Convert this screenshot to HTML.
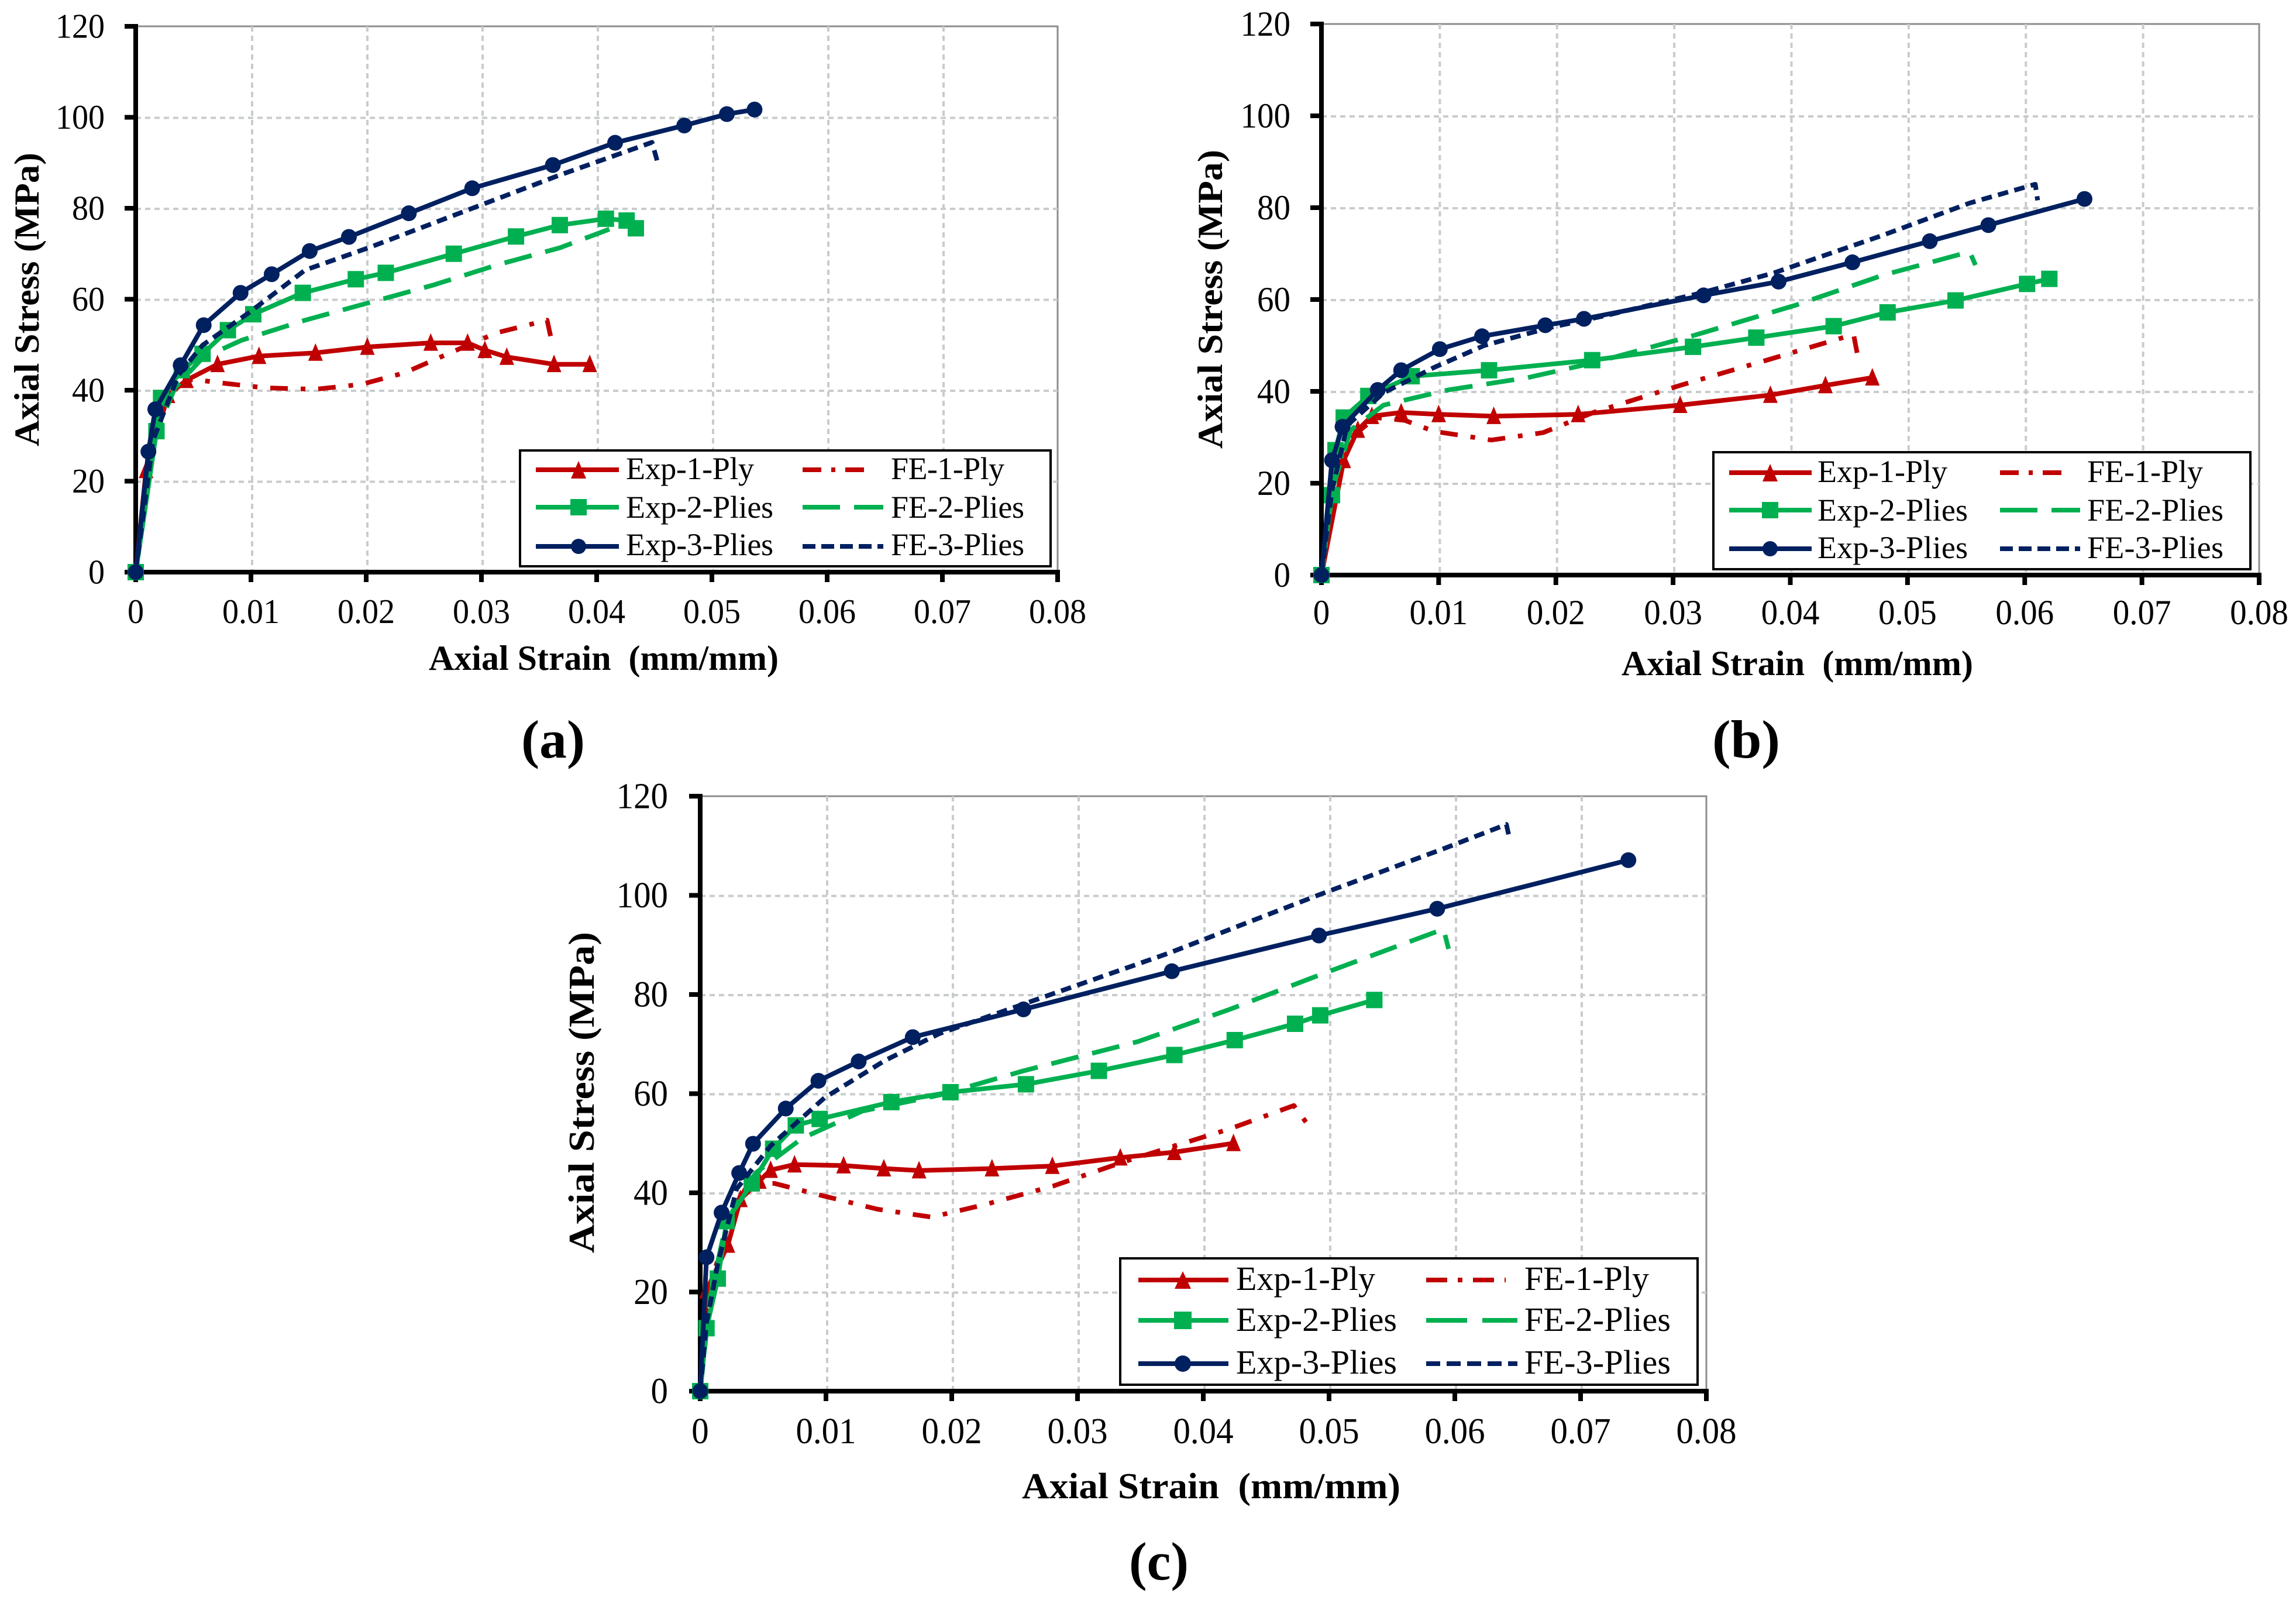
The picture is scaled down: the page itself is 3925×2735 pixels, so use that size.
<!DOCTYPE html>
<html lang="en">
<head>
<meta charset="utf-8">
<title>Axial stress versus axial strain charts</title>
<style>
html,body{margin:0;padding:0;background:#fff;}
svg{display:block;font-family:"Liberation Serif",serif;}
.axis-title{font-weight:bold;fill:#000;}
.legend-text{fill:#000;}
.caption{font-weight:bold;fill:#000;font-size:92px;}
</style>
</head>
<body>
<svg id="figure" xmlns="http://www.w3.org/2000/svg" width="3925" height="2735" viewBox="0 0 3925 2735">
  <rect x="0" y="0" width="3925" height="2735" fill="#fff"/>
  <g id="plot-a"></g>
  <g id="plot-b"></g>
  <g id="plot-c"></g>

  <text class="axis-title" x="733" y="1145" font-size="60" textLength="598" lengthAdjust="spacingAndGlyphs">Axial Strain&#160; (mm/mm)</text>
  <text class="axis-title" transform="translate(66 763) rotate(-90)" font-size="60" textLength="502" lengthAdjust="spacingAndGlyphs">Axial Stress (MPa)</text>
  <text class="caption" x="891" y="1295" textLength="109" lengthAdjust="spacingAndGlyphs">(a)</text>

  <text class="axis-title" x="2772" y="1154" font-size="60" textLength="601" lengthAdjust="spacingAndGlyphs">Axial Strain&#160; (mm/mm)</text>
  <text class="axis-title" transform="translate(2089 767) rotate(-90)" font-size="60" textLength="511" lengthAdjust="spacingAndGlyphs">Axial Stress (MPa)</text>
  <text class="caption" x="2927" y="1295" textLength="116" lengthAdjust="spacingAndGlyphs">(b)</text>

  <text class="axis-title" x="1747" y="2561" font-size="62" textLength="647" lengthAdjust="spacingAndGlyphs">Axial Strain&#160; (mm/mm)</text>
  <text class="axis-title" transform="translate(1015 2142) rotate(-90)" font-size="62" textLength="549" lengthAdjust="spacingAndGlyphs">Axial Stress (MPa)</text>
  <text class="caption" x="1930" y="2700" textLength="102" lengthAdjust="spacingAndGlyphs">(c)</text>

  <g>
    <rect x="889" y="770" width="907" height="198" fill="#fff" stroke="#000" stroke-width="4"/>
    <line x1="916" y1="803" x2="1058" y2="803" stroke="#C00000" stroke-width="8"/>
    <polygon points="989,788 1002,818 976,818" fill="#C00000"/>
    <text class="legend-text" x="1070" y="819" font-size="54" textLength="219" lengthAdjust="spacing">Exp-1-Ply</text>
    <line x1="916" y1="867" x2="1058" y2="867" stroke="#00B050" stroke-width="8"/>
    <rect x="975" y="853" width="28" height="28" fill="#00B050"/>
    <text class="legend-text" x="1070" y="885" font-size="54" textLength="252" lengthAdjust="spacing">Exp-2-Plies</text>
    <line x1="916" y1="934" x2="1058" y2="934" stroke="#002060" stroke-width="8"/>
    <circle cx="989" cy="934" r="13" fill="#002060"/>
    <text class="legend-text" x="1070" y="949" font-size="54" textLength="252" lengthAdjust="spacing">Exp-3-Plies</text>
    <line x1="1372" y1="803" x2="1493" y2="803" stroke="#C00000" stroke-width="8" stroke-dasharray="32 17 7 17"/>
    <text class="legend-text" x="1523" y="819" font-size="54" textLength="194" lengthAdjust="spacing">FE-1-Ply</text>
    <line x1="1372" y1="867" x2="1510" y2="867" stroke="#00B050" stroke-width="8" stroke-dasharray="64 24"/>
    <text class="legend-text" x="1523" y="885" font-size="54" textLength="228" lengthAdjust="spacing">FE-2-Plies</text>
    <line x1="1372" y1="934" x2="1510" y2="934" stroke="#002060" stroke-width="8" stroke-dasharray="22 10"/>
    <text class="legend-text" x="1523" y="949" font-size="54" textLength="228" lengthAdjust="spacing">FE-3-Plies</text>
  </g>

  <g>
    <rect x="2929" y="773" width="918" height="200" fill="#fff" stroke="#000" stroke-width="4"/>
    <line x1="2956" y1="808" x2="3097" y2="808" stroke="#C00000" stroke-width="8"/>
    <polygon points="3026,793 3039,823 3013,823" fill="#C00000"/>
    <text class="legend-text" x="3107" y="824" font-size="54" textLength="222" lengthAdjust="spacing">Exp-1-Ply</text>
    <line x1="2956" y1="872" x2="3097" y2="872" stroke="#00B050" stroke-width="8"/>
    <rect x="3012" y="858" width="28" height="28" fill="#00B050"/>
    <text class="legend-text" x="3107" y="890" font-size="54" textLength="257" lengthAdjust="spacing">Exp-2-Plies</text>
    <line x1="2956" y1="938" x2="3097" y2="938" stroke="#002060" stroke-width="8"/>
    <circle cx="3026" cy="938" r="13" fill="#002060"/>
    <text class="legend-text" x="3107" y="954" font-size="54" textLength="257" lengthAdjust="spacing">Exp-3-Plies</text>
    <line x1="3419" y1="808" x2="3540" y2="808" stroke="#C00000" stroke-width="8" stroke-dasharray="32 17 7 17"/>
    <text class="legend-text" x="3568" y="824" font-size="54" textLength="198" lengthAdjust="spacing">FE-1-Ply</text>
    <line x1="3419" y1="872" x2="3556" y2="872" stroke="#00B050" stroke-width="8" stroke-dasharray="64 24"/>
    <text class="legend-text" x="3568" y="890" font-size="54" textLength="233" lengthAdjust="spacing">FE-2-Plies</text>
    <line x1="3419" y1="938" x2="3556" y2="938" stroke="#002060" stroke-width="8" stroke-dasharray="22 10"/>
    <text class="legend-text" x="3568" y="954" font-size="54" textLength="233" lengthAdjust="spacing">FE-3-Plies</text>
  </g>

  <g>
    <rect x="1915" y="2151" width="987" height="216" fill="#fff" stroke="#000" stroke-width="4"/>
    <line x1="1946" y1="2188" x2="2100" y2="2188" stroke="#C00000" stroke-width="8"/>
    <polygon points="2022,2173 2036,2203 2008,2203" fill="#C00000"/>
    <text class="legend-text" x="2113" y="2205" font-size="58" textLength="238" lengthAdjust="spacing">Exp-1-Ply</text>
    <line x1="1946" y1="2257" x2="2100" y2="2257" stroke="#00B050" stroke-width="8"/>
    <rect x="2007" y="2242" width="30" height="30" fill="#00B050"/>
    <text class="legend-text" x="2113" y="2275" font-size="58" textLength="275" lengthAdjust="spacing">Exp-2-Plies</text>
    <line x1="1946" y1="2331" x2="2100" y2="2331" stroke="#002060" stroke-width="8"/>
    <circle cx="2022" cy="2331" r="14" fill="#002060"/>
    <text class="legend-text" x="2113" y="2348" font-size="58" textLength="275" lengthAdjust="spacing">Exp-3-Plies</text>
    <line x1="2438" y1="2188" x2="2574" y2="2188" stroke="#C00000" stroke-width="8" stroke-dasharray="36 18 8 18"/>
    <text class="legend-text" x="2606" y="2205" font-size="58" textLength="213" lengthAdjust="spacing">FE-1-Ply</text>
    <line x1="2438" y1="2257" x2="2594" y2="2257" stroke="#00B050" stroke-width="8" stroke-dasharray="70 26"/>
    <text class="legend-text" x="2606" y="2275" font-size="58" textLength="250" lengthAdjust="spacing">FE-2-Plies</text>
    <line x1="2438" y1="2331" x2="2594" y2="2331" stroke="#002060" stroke-width="8" stroke-dasharray="24 11"/>
    <text class="legend-text" x="2606" y="2348" font-size="58" textLength="250" lengthAdjust="spacing">FE-3-Plies</text>
  </g>
</svg>

<script>
// Axis tick labels
const strainTicks = [0, 0.01, 0.02, 0.03, 0.04, 0.05, 0.06, 0.07, 0.08];
const stressTicks = [0, 20, 40, 60, 80, 100, 120];

// Chart (a)
const aExp1Strain = [0, 0.0009, 0.0028, 0.0044, 0.0071, 0.0107, 0.0156, 0.0201, 0.0256, 0.0288, 0.0303, 0.0322, 0.0363, 0.0394];
const aExp1Stress = [0, 22.4, 38.9, 42.2, 45.7, 47.5, 48.2, 49.5, 50.4, 50.4, 48.8, 47.3, 45.7, 45.7];
const aExp2Strain = [0, 0.0018, 0.0022, 0.004, 0.0058, 0.008, 0.0102, 0.0145, 0.0191, 0.0217, 0.0276, 0.033, 0.0368, 0.0408, 0.0426, 0.0434];
const aExp2Stress = [0, 31, 38.3, 44.4, 48, 53.2, 56.7, 61.4, 64.4, 65.8, 70, 73.8, 76.3, 77.7, 77.3, 75.6];
const aExp3Strain = [0, 0.0011, 0.0017, 0.0039, 0.0059, 0.0091, 0.0118, 0.0151, 0.0185, 0.0237, 0.0292, 0.0362, 0.0416, 0.0476, 0.0513, 0.0537];
const aExp3Stress = [0, 26.5, 35.8, 45.5, 54.3, 61.4, 65.5, 70.6, 73.7, 78.9, 84.4, 89.5, 94.4, 98.2, 100.7, 101.7];
const aFe1Strain = [0, 0.0009, 0.0022, 0.0034, 0.0049, 0.0074, 0.0113, 0.0156, 0.0196, 0.0233, 0.027, 0.0313, 0.0357, 0.036];
const aFe1Stress = [0, 21.2, 34.4, 40.5, 42.4, 41.6, 40.5, 40.2, 41.3, 43.8, 47.9, 52.6, 55.4, 51.9];
const aFe2Strain = [0, 0.0015, 0.0034, 0.0058, 0.0092, 0.0147, 0.0202, 0.0258, 0.0313, 0.0368, 0.0411];
const aFe2Stress = [0, 29, 40.5, 47.1, 51, 55.4, 59.2, 63.1, 67.5, 71.3, 75.4];
const aFe3Strain = [0, 0.0015, 0.0037, 0.0058, 0.0098, 0.0147, 0.0202, 0.0288, 0.0368, 0.0448, 0.0453];
const aFe3Stress = [0, 29, 43.3, 49.9, 57, 66.4, 71.3, 79.6, 87.3, 94.5, 90];

// Chart (b)
const bExp1Strain = [0, 0.0019, 0.0031, 0.0043, 0.0068, 0.01, 0.0147, 0.0219, 0.0306, 0.0383, 0.043, 0.047];
const bExp1Stress = [0, 25, 31.6, 34.6, 35.4, 35, 34.6, 35, 37, 39.2, 41.3, 43];
const bExp2Strain = [0, 0.0009, 0.0012, 0.0019, 0.004, 0.0077, 0.0143, 0.0231, 0.0317, 0.0371, 0.0437, 0.0483, 0.0541, 0.0602, 0.0621];
const bExp2Stress = [0, 17.4, 27.2, 34.3, 39, 43.3, 44.6, 46.8, 49.7, 51.7, 54.2, 57.2, 59.8, 63.4, 64.5];
const bExp3Strain = [0, 0.0009, 0.0018, 0.0048, 0.0068, 0.0101, 0.0137, 0.0191, 0.0224, 0.0326, 0.039, 0.0453, 0.0519, 0.0569, 0.0651];
const bExp3Stress = [0, 25, 32.3, 40.3, 44.6, 49.2, 52, 54.4, 55.8, 60.9, 63.9, 68.1, 72.7, 76.2, 81.9];
const bFe1Strain = [0, 0.0012, 0.0028, 0.0046, 0.0071, 0.0096, 0.0145, 0.0189, 0.0232, 0.0306, 0.038, 0.0454, 0.0457];
const bFe1Stress = [0, 21.8, 30.5, 34.3, 33.7, 31.3, 29.4, 31, 35.4, 41.3, 46.8, 52.4, 48.4];
const bFe2Strain = [0, 0.0009, 0.0025, 0.0053, 0.0108, 0.0176, 0.0232, 0.0318, 0.0405, 0.0479, 0.0553, 0.0558];
const bFe2Stress = [0, 18.5, 31.6, 37, 40.3, 43, 46.2, 52.2, 58.8, 65.3, 70.4, 67.5];
const bFe3Strain = [0, 0.0009, 0.0022, 0.0053, 0.0096, 0.0139, 0.0195, 0.0244, 0.0325, 0.0386, 0.0479, 0.0553, 0.0609, 0.0611];
const bFe3Stress = [0, 18.5, 32.6, 39.7, 45.2, 50, 53.9, 56.6, 61.5, 65.8, 74, 81, 85.1, 81.6];

// Chart (c)
const cExp1Strain = [0, 0.0005, 0.0022, 0.0032, 0.0047, 0.0056, 0.0075, 0.0114, 0.0146, 0.0174, 0.0232, 0.028, 0.0334, 0.0377, 0.0424];
const cExp1Stress = [0, 20.3, 29.5, 38.7, 42.4, 44.6, 45.7, 45.5, 44.9, 44.5, 44.9, 45.4, 47.1, 48.2, 50];
const cExp2Strain = [0, 0.0005, 0.0014, 0.0021, 0.0041, 0.0058, 0.0076, 0.0095, 0.0152, 0.0199, 0.0259, 0.0317, 0.0377, 0.0425, 0.0473, 0.0493, 0.0536];
const cExp2Stress = [0, 12.7, 22.7, 34.3, 41.9, 48.9, 53.6, 54.9, 58.3, 60.3, 61.9, 64.6, 67.8, 70.8, 74.1, 75.8, 78.9];
const cExp3Strain = [0, 0.0005, 0.0017, 0.0031, 0.0042, 0.0068, 0.0094, 0.0126, 0.0169, 0.0257, 0.0375, 0.0492, 0.0586, 0.0738];
const cExp3Stress = [0, 27, 36, 44, 49.9, 57, 62.6, 66.5, 71.4, 77, 84.7, 91.9, 97.3, 107.1];
const cFe1Strain = [0, 0.0008, 0.0023, 0.0038, 0.0059, 0.0096, 0.0141, 0.0184, 0.0226, 0.0281, 0.0336, 0.0384, 0.0421, 0.0472, 0.0483];
const cFe1Stress = [0, 21.4, 34.3, 41.9, 41.9, 39.5, 36.7, 35.1, 37.6, 41.4, 46.2, 50, 52.9, 57.6, 53.8];
const cFe2Strain = [0, 0.0008, 0.0021, 0.0044, 0.0081, 0.0129, 0.019, 0.0257, 0.0348, 0.0421, 0.0493, 0.0591, 0.0595];
const cFe2Stress = [0, 19.2, 34.3, 44, 51, 56.5, 59.7, 64.6, 70.5, 77, 84, 93.2, 89.2];
const cFe3Strain = [0, 0.0005, 0.0014, 0.0029, 0.0056, 0.0099, 0.0147, 0.019, 0.0263, 0.0372, 0.0493, 0.0591, 0.0641, 0.0643];
const cFe3Stress = [0, 13.8, 25.7, 40.8, 49.5, 59.2, 66.7, 72.1, 78.6, 88.3, 100.2, 109.4, 114.3, 112];

const SVG_NS = 'http://www.w3.org/2000/svg';
const RED = '#C00000';
const GREEN = '#00B050';
const NAVY = '#002060';

function make(tag, props, parent) {
  const node = document.createElementNS(SVG_NS, tag);
  Object.keys(props).forEach(function (k) { node.setAttribute(k, props[k]); });
  parent.appendChild(node);
  return node;
}

function labelWidth(str, size, squeeze) {
  let units = 0;
  for (const ch of str) { units += (ch === '.') ? 0.25 : 0.5; }
  return units * size * squeeze;
}

function drawMarker(kind, cx, cy, color, r, group) {
  let node;
  if (kind === 'triangle') {
    node = make('polygon', { points: (cx) + ',' + (cy - r - 4) + ' ' + (cx + r) + ',' + (cy + r + 1) + ' ' + (cx - r) + ',' + (cy + r + 1), fill: color }, group);
  } else if (kind === 'square') {
    node = make('rect', { x: cx - r, y: cy - r, width: 2 * r, height: 2 * r, fill: color }, group);
  } else {
    node = make('circle', { cx: cx, cy: cy, r: r, fill: color }, group);
  }
  
  
}

function drawPanel(p) {
  const root = document.getElementById(p.id);
  const xScale = function (v) { return p.x0 + (v / 0.08) * (p.x1 - p.x0); };
  const yScale = function (v) { return p.y0 - (v / 120) * (p.y0 - p.y1); };

  const frame = make('path', { d: 'M' + p.x0 + ' ' + p.y1 + 'H' + p.x1 + 'V' + p.y0, fill: 'none', stroke: '#8c8c8c', 'stroke-width': 3 }, root);
  
  

  strainTicks.forEach(function (t, i) {
    const x = xScale(t);
    if (i > 0 && i < strainTicks.length - 1) {
      const gridV = make('line', { x1: x + 2, y1: p.y1, x2: x + 2, y2: p.y0, stroke: '#c9cccc', 'stroke-width': 4, 'stroke-dasharray': '9 7' }, root);
      
      
    }
    const tickX = make('line', { x1: x, y1: p.y0, x2: x, y2: p.y0 + 17, stroke: '#000', 'stroke-width': 8 }, root);
    
    
    const labelX = make('text', { x: x, y: p.xLabelY, 'text-anchor': 'middle', 'font-size': p.fontSize, textLength: labelWidth(String(t), p.fontSize, 0.95), lengthAdjust: 'spacingAndGlyphs', fill: '#000' }, root);
    labelX.textContent = String(t);
    
    
  });

  stressTicks.forEach(function (t, i) {
    const y = yScale(t);
    if (i > 0 && i < stressTicks.length - 1) {
      const gridH = make('line', { x1: p.x0, y1: y + 1, x2: p.x1, y2: y + 1, stroke: '#c9cccc', 'stroke-width': 4, 'stroke-dasharray': '9 7' }, root);
      
      
    }
    const tickY = make('line', { x1: p.x0 - 19, y1: y, x2: p.x0, y2: y, stroke: '#000', 'stroke-width': 8 }, root);
    
    
    const labelY = make('text', { x: p.yLabelX, y: y + p.fontSize * 0.33, 'text-anchor': 'end', 'font-size': p.fontSize, textLength: labelWidth(String(t), p.fontSize, 0.95), lengthAdjust: 'spacingAndGlyphs', fill: '#000' }, root);
    labelY.textContent = String(t);
    
    
  });

  const axisY = make('line', { x1: p.x0, y1: p.y1 - 4, x2: p.x0, y2: p.y0 + 17, stroke: '#000', 'stroke-width': 8 }, root);
  
  
  const axisX = make('line', { x1: p.x0 - 19, y1: p.y0, x2: p.x1 + 4, y2: p.y0, stroke: '#000', 'stroke-width': 8 }, root);
  
  

  p.series.forEach(function (s) {
    const group = make('g', {}, root);
    
    
    const pts = s.xs.map(function (v, i) { return xScale(v).toFixed(1) + ',' + yScale(s.ys[i]).toFixed(1); }).join(' ');
    const line = make('polyline', { points: pts, fill: 'none', stroke: s.color, 'stroke-width': s.width, 'stroke-linejoin': 'round' }, group);
    if (s.dash) { line.setAttribute('stroke-dasharray', s.dash); }
    
    
    if (s.marker) {
      s.xs.forEach(function (v, i) {
        const r = s.marker === 'triangle' ? 12.5 : (s.marker === 'square' ? 14 : 13.5);
        drawMarker(s.marker, xScale(v), yScale(s.ys[i]), s.color, r, group);
      });
    }
  });
}

function seriesFor(e1x, e1y, e2x, e2y, e3x, e3y, f1x, f1y, f2x, f2y, f3x, f3y) {
  return [
    { name: 'fe-1-ply', xs: f1x, ys: f1y, color: RED, width: 8, dash: '30 22 8 22' },
    { name: 'exp-1-ply', xs: e1x, ys: e1y, color: RED, width: 8, marker: 'triangle' },
    { name: 'fe-2-plies', xs: f2x, ys: f2y, color: GREEN, width: 8, dash: '48 24' },
    { name: 'exp-2-plies', xs: e2x, ys: e2y, color: GREEN, width: 8, marker: 'square' },
    { name: 'fe-3-plies', xs: f3x, ys: f3y, color: NAVY, width: 8, dash: '18 11' },
    { name: 'exp-3-plies', xs: e3x, ys: e3y, color: NAVY, width: 8, marker: 'circle' }
  ];
}

drawPanel({ id: 'plot-a', x0: 232, x1: 1808, y0: 978, y1: 45, fontSize: 59, yLabelX: 179, xLabelY: 1065,
  series: seriesFor(aExp1Strain, aExp1Stress, aExp2Strain, aExp2Stress, aExp3Strain, aExp3Stress, aFe1Strain, aFe1Stress, aFe2Strain, aFe2Stress, aFe3Strain, aFe3Stress) });
drawPanel({ id: 'plot-b', x0: 2259, x1: 3862, y0: 983, y1: 41, fontSize: 60, yLabelX: 2206, xLabelY: 1067,
  series: seriesFor(bExp1Strain, bExp1Stress, bExp2Strain, bExp2Stress, bExp3Strain, bExp3Stress, bFe1Strain, bFe1Stress, bFe2Strain, bFe2Stress, bFe3Strain, bFe3Stress) });
drawPanel({ id: 'plot-c', x0: 1197, x1: 2917, y0: 2378, y1: 1361, fontSize: 62, yLabelX: 1142, xLabelY: 2467,
  series: seriesFor(cExp1Strain, cExp1Stress, cExp2Strain, cExp2Stress, cExp3Strain, cExp3Stress, cFe1Strain, cFe1Stress, cFe2Strain, cFe2Stress, cFe3Strain, cFe3Stress) });
</script>
</body>
</html>
